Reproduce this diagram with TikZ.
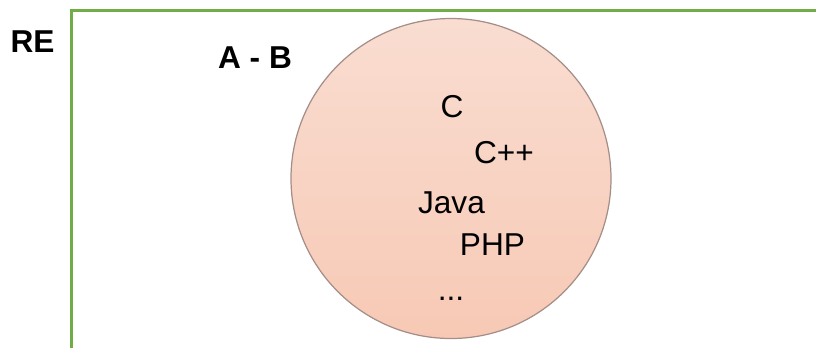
\documentclass[tikz,border=0pt]{standalone}
\usepackage{fontspec}
\setmainfont{Liberation Sans}

\definecolor{framegreen}{RGB}{112,173,71}
\definecolor{settop}{RGB}{249,221,209}
\definecolor{setbottom}{RGB}{247,201,181}
\definecolor{setline}{RGB}{165,142,136}

\begin{document}
\begin{tikzpicture}[
    font=\fontsize{9}{11}\selectfont,
    frame/.style={draw=framegreen, line width=0.85pt},
    setcircle/.style={circle, draw=setline, line width=0.35pt, top color=settop, bottom color=setbottom, minimum size=3.2cm, inner sep=0pt},
    title/.style={anchor=base, font=\fontsize{9}{11}\selectfont\bfseries},
    item/.style={anchor=base}
]

    \useasboundingbox (0, 0) rectangle (8.16, 3.48);

    % frame of the universe
    \coordinate (F0) at (0.715, 0);
    \coordinate (F1) at (0.715, 3.38);
    \coordinate (F2) at (8.16, 3.38);
    \draw [frame] (F0) -- (F1) -- (F2);

    \node [title] (RE) at (0.325, 2.96) {RE};
    \node [title] (AB) at (2.55, 2.80) {A - B};

    \node [setcircle] (S) at (4.51, 1.695) {};

    \node [item] (C) at (4.52, 2.31) {C};
    \node [item] (Cpp) at (5.04, 1.85) {C++};
    \node [item] (Java) at (4.515, 1.35) {Java};
    \node [item] (PHP) at (4.925, 0.93) {PHP};
    \node [item] (More) at (4.51, 0.48) {...};

\end{tikzpicture}
\end{document}
